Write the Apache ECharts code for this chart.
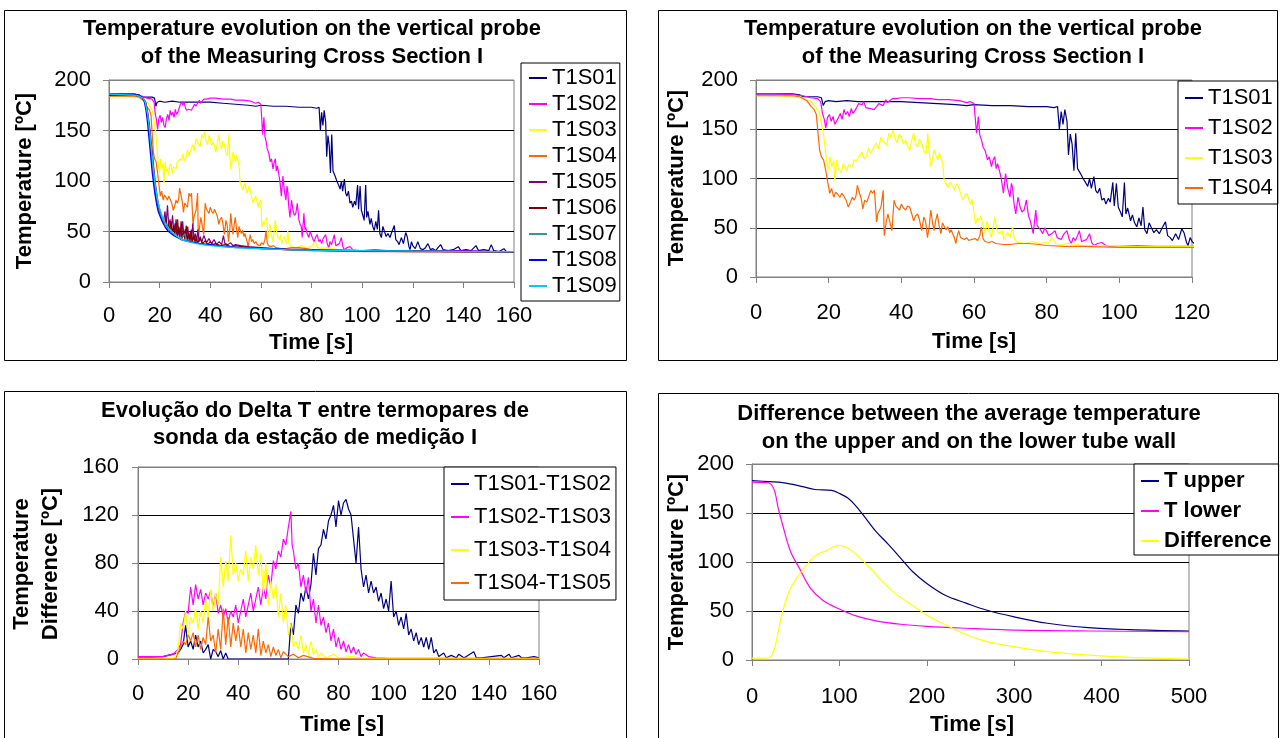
<!DOCTYPE html>
<html><head><meta charset="utf-8">
<script src="https://cdn.jsdelivr.net/npm/echarts@6/dist/echarts.min.js"></script>
<style>html,body{margin:0;padding:0;background:#fff}#c{width:1280px;height:738px}</style>
</head><body><div id="c"></div>
<script>
// ---------- Panel 1 & 2 : probe temperatures [time s, temperature ºC] ----------
const T1S01 = [[0,186],[5,186],[10,186],[12,185],[13,183],[15,183],[17,183],[18,182],[18.5,174],[19,178],[20,179],[22,178],[25,179],[28,178],[30,178],[35,178],[40,178],[45,177],[50,176],[55,175],[58,174],[60,175],[65,174],[70,174],[75,173],[80,173],[82,172],[83,173],[83.5,150],[84,168],[84.5,155],[85,170],[85.6,158],[86,124],[86.5,145],[87,135],[87.5,108],[88,146],[88.5,110],[89,107],[89.6,103],[90,100],[90.7,96],[91.3,92],[91.8,100],[92.3,90],[93,102],[93.5,88],[94,85],[94.6,90],[95.2,78],[95.8,80],[96.3,74],[97,80],[97.5,76],[98.2,96],[98.6,72],[99.2,95],[99.7,71],[100.3,66],[100.8,61],[101.4,96],[101.8,64],[102.3,70],[103.1,57],[103.6,63],[104.2,55],[104.8,51],[105.4,60],[106,52],[106.5,71],[107,48],[107.6,44],[108.2,55],[108.7,51],[109.5,45],[110.2,48],[111,44],[111.8,50],[112.7,56],[113.3,42],[114,40],[114.6,37],[115.5,44],[116.3,38],[117.2,49],[117.8,45],[118.5,35],[118.9,32],[119.5,40],[120,36],[121,33],[122,40],[123,33],[124,32],[125,34],[126,38],[127,32],[128,33],[129,31],[131,37],[132,32],[134,31],[136,32],[138,35],[139,31],[141,32],[143,31],[145,36],[146,31],[148,32],[150,31],[151,37],[152,31],[154,30],[156,33],[157,30],[160,30]];
const T1S02 = [[0,186],[5,186],[10,185],[13,184],[15,182],[17,181],[17.8,178],[18.3,166],[18.8,160],[19.2,151],[19.7,162],[20.2,165],[20.7,158],[21.2,163],[21.7,155],[22.2,153],[22.7,162],[23.2,166],[23.7,160],[24.2,170],[24.7,165],[25.2,168],[25.7,163],[26.2,171],[26.7,166],[27.2,168],[27.7,172],[28.2,176],[28.7,178],[29.2,175],[29.7,178],[30.2,172],[30.7,170],[31.5,171],[32.5,170],[33.2,173],[33.8,176],[34.3,174],[35,174],[35.7,180],[36.2,177],[36.8,179],[37.5,181],[38.5,181],[40,182],[42,182],[45,181],[48,181],[50,180],[53,180],[56,179],[58,177],[59,178],[60,176],[60.5,176],[60.7,146],[61.2,163],[61.6,144],[62,140],[62.5,132],[63.1,128],[63.7,119],[64.2,122],[64.8,112],[65.2,118],[65.7,122],[66.1,110],[66.5,115],[67,108],[67.5,100],[68.1,85],[68.7,105],[69.3,90],[69.9,81],[70.3,95],[70.6,91],[71,75],[71.5,64],[72.1,81],[72.7,71],[73.2,66],[73.8,68],[74.4,78],[75,62],[75.5,57],[76,55],[76.3,44],[77,68],[77.4,52],[77.7,54],[78.3,48],[78.9,44],[79.5,50],[80,51],[80.6,42],[81.1,40],[81.7,45],[82.3,47],[82.9,40],[83.4,42],[84,38],[84.6,43],[85.1,45],[85.6,47],[86.2,38],[86.8,34],[87.3,40],[87.9,37],[88.5,42],[89,47],[89.6,36],[90.1,35],[91,38],[91.8,44],[92.4,35],[93,32],[94,34],[95.2,35],[96.3,32],[97.5,31],[100,31],[105,32],[110,31],[115,31],[120,31],[130,31],[140,31],[150,30],[160,30]];
const T1S03 = [[0,184],[5,184],[10,183],[12,182],[14,180],[15.2,178],[16.3,173],[17,170],[17.5,166],[18,156],[18.4,148],[18.8,139],[19.3,122],[19.9,108],[20.4,122],[20.9,112],[21.4,118],[21.7,98],[22.2,119],[22.6,110],[23,112],[23.5,106],[24,115],[24.5,117],[25,108],[25.5,114],[25.9,115],[26.5,112],[27,119],[27.6,118],[28.2,122],[28.7,120],[29.2,127],[29.7,120],[30.3,122],[31,131],[31.5,125],[32,129],[32.6,133],[33.2,136],[33.7,130],[34.4,142],[35,138],[35.5,139],[36,134],[36.6,146],[37.2,142],[37.7,149],[38.3,140],[38.9,136],[39.4,145],[40,142],[40.6,135],[41.2,139],[41.7,133],[42.3,129],[42.8,138],[43.4,146],[43.9,135],[44.5,132],[45,140],[45.6,136],[46.2,128],[46.8,125],[47.3,146],[47.6,130],[48.1,112],[48.5,118],[49,129],[49.5,124],[50,119],[50.5,126],[51,127],[51.4,115],[51.8,98],[52.3,98],[52.9,91],[53.4,96],[53.7,98],[54.2,92],[54.6,88],[55.2,95],[55.8,91],[56.3,85],[56.9,78],[57.4,82],[58,85],[58.5,80],[59,74],[59.5,79],[60,81],[60.4,54],[61,60],[61.4,57],[61.9,62],[62.3,64],[62.7,50],[63.1,44],[63.6,57],[64.1,48],[64.8,40],[65.3,52],[65.7,61],[66.2,50],[66.8,44],[67.3,42],[67.8,47],[68.2,38],[68.7,37],[69.3,45],[69.9,40],[70.3,38],[70.6,51],[71.1,39],[71.5,37],[72,35],[72.7,35],[74,34],[76,36],[78,34],[80,35],[80.6,35],[81.5,40],[82.5,34],[84,33],[86,34],[88,33],[90,32],[95,32],[100,31],[110,31],[120,31],[140,30],[160,30]];
const T1S04 = [[0,184],[5,184],[10,184],[12,183],[13,181],[14,179],[15.2,173],[16,170],[16.6,165],[17,149],[17.5,129],[18,122],[18.6,119],[19.2,108],[19.7,97],[20.3,85],[20.8,90],[21.4,81],[21.9,86],[22.5,84],[23.1,81],[23.6,85],[24.2,82],[24.8,78],[25.4,71],[26,76],[26.5,81],[27,78],[27.5,82],[27.9,93],[28.5,85],[29,79],[29.4,69],[29.9,78],[30.5,76],[31,74],[31.6,88],[32.1,85],[32.6,88],[33.2,56],[33.5,64],[34,68],[34.4,71],[35,88],[35.3,42],[35.8,55],[36.3,64],[36.8,64],[37.4,47],[38,78],[38.5,72],[39,71],[39.5,68],[40,74],[40.6,70],[41.2,68],[41.7,72],[42.3,71],[42.8,65],[43.4,57],[43.9,62],[44.5,64],[45,58],[45.6,47],[46.2,61],[46.7,56],[47.2,40],[47.7,52],[48.1,68],[48.6,55],[49,47],[49.5,58],[49.9,64],[50.4,52],[50.9,44],[51.3,55],[51.8,54],[52.3,48],[52.8,51],[53.3,45],[53.7,48],[54.1,44],[54.6,40],[55,34],[55.4,42],[55.8,47],[56.3,40],[56.8,42],[57.4,38],[58,40],[58.6,37],[59.2,38],[59.7,36],[60.3,39],[61,37],[61.6,42],[62,51],[62.5,39],[63,36],[64,35],[65,36],[66,34],[68,33],[70,33],[72,34],[75,34],[78,33],[80,32],[85,31],[90,31],[100,30],[110,30],[120,30],[140,30],[160,30]];
const T1S05 = [[0,185],[10,185],[12,184],[13,183],[14,180],[14.8,172],[15.5,160],[16.2,142],[16.8,125],[17.4,110],[18,96],[18.6,84],[19.2,76],[19.8,70],[20.4,66],[21,62],[21.6,60],[22.1,70],[22.6,58],[23.1,76],[23.6,55],[24.1,62],[24.6,52],[25.1,66],[25.6,50],[26.1,58],[26.6,47],[27.1,62],[27.6,46],[28.1,54],[28.6,44],[29.1,60],[29.6,45],[30.1,52],[30.6,43],[31.1,55],[31.6,42],[32.1,50],[32.6,41],[33.1,58],[33.6,42],[34.1,48],[34.6,40],[35.1,52],[35.6,40],[36.1,45],[36.6,39],[37.5,46],[38.5,39],[39.5,43],[40.5,38],[41.5,42],[42.5,37],[43.5,40],[44.5,37],[45.2,46],[45.8,38],[47,37],[48,39],[49,36],[50,37],[52,36],[55,35],[60,34],[65,33],[70,32],[80,31.5],[90,31],[100,31],[120,30.5],[140,30],[160,30]];
const T1S06 = [[0,185],[10,185],[12,184],[13.5,182],[14.5,178],[15.3,168],[16,155],[16.6,140],[17.2,126],[17.8,110],[18.4,96],[19,85],[19.6,76],[20.2,70],[20.8,64],[21.4,60],[22,57],[22.5,64],[23,52],[23.5,58],[24,50],[24.5,60],[25,48],[25.5,56],[26,47],[26.5,62],[27,45],[27.5,55],[28,44],[28.5,60],[29,43],[29.5,50],[30,42],[30.5,56],[31,41],[31.5,48],[32,40],[32.5,52],[33,40],[33.5,46],[34,39],[34.5,45],[35,39],[36,43],[37,38],[38,41],[39,37],[40,40],[41,37],[42,38],[44,36],[46,37],[48,35],[50,36],[55,34],[60,33],[70,32],[80,31],[100,30.5],[120,30],[160,29.5]];
const T1S07 = [[0,186],[10,185],[12,184],[13.5,182],[14.3,178],[15,170],[15.6,158],[16.2,142],[16.8,126],[17.4,111],[18,98],[18.6,87],[19.2,78],[19.8,72],[20.5,66],[21.5,60],[22.5,55],[23.5,52],[24.5,50],[25.5,47],[27,45],[28.5,43],[30,48],[30.5,42],[32,40],[34,39],[36,38],[38,37],[40,36.5],[45,35],[50,34],[60,33],[70,32],[80,31.5],[100,31],[120,30.5],[140,30],[160,30]];
const T1S08 = [[0,186],[10,186],[12,185],[13,183],[14,178],[14.6,170],[15.2,158],[15.8,142],[16.4,126],[17,110],[17.6,97],[18.2,86],[18.8,77],[19.4,70],[20,66],[20.8,61],[21.6,57],[22.5,53],[23.5,50],[24.5,48],[25.5,46],[27,44],[28.5,42],[30,41],[32,40],[34,39],[36,38],[38,37.5],[40,37],[45,35.5],[50,34.5],[60,33.5],[70,32.5],[80,32],[100,31],[120,30.5],[140,30.5],[160,30]];
const T1S09 = [[0,186],[10,185],[12,184],[13.5,182],[14.3,178],[15.2,167],[16,151],[16.8,131],[17.6,111],[18.4,94],[19.2,81],[20,73],[20.8,67],[21.6,61],[22.4,58],[23.2,55],[24,52],[24.8,50],[25.6,48],[26.5,46],[28,43],[29.7,41],[32,39.5],[34.5,38],[37,37],[40,36],[45,35],[50,34],[60,33],[70,32],[80,31.5],[100,31],[120,30.5],[140,30.2],[160,30]];

// ---------- Panel 3 : temperature differences ----------
const D0102 = [[0,1.5],[5,1.5],[10,2],[12,3],[14,4],[16,5],[17,8],[18,12],[19,28],[20,10],[21,15],[22,8],[23,20],[24,10],[25,15],[26,5],[27,8],[28,12],[29,0],[30,8],[31,6],[32,2],[33,7],[34,0],[35,5],[36,0],[37,0],[60,0],[61,30],[62,20],[63,45],[64,38],[65,55],[66,48],[67,60],[68,50],[69,62],[70,88],[71,70],[72,92],[73,95],[74,108],[75,100],[76,115],[77,120],[78,128],[79,110],[80,132],[81,120],[82,130],[83,133],[84,125],[85,120],[86,100],[87,80],[88,110],[89,75],[90,60],[91,70],[92,55],[93,65],[94,55],[95,60],[96,48],[97,55],[98,42],[99,50],[100,40],[101,65],[102,35],[103,40],[104,28],[105,35],[106,25],[107,38],[108,20],[109,25],[110,15],[111,22],[112,12],[113,18],[114,10],[115,18],[116,8],[117,18],[118,5],[119,8],[120,2],[122,5],[123,1],[125,3],[127,1],[128,4],[130,1],[131,2],[134,6],[135,1],[137,1],[145,3],[146,1],[148,4],[149,1],[152,3],[153,1],[155,1],[158,2],[160,1]];
const D0203 = [[0,2],[5,2],[10,2],[14,4],[16,8],[17,12],[18,30],[19,40],[20,38],[21,60],[22,45],[23,62],[24,50],[25,58],[26,45],[27,55],[28,50],[29,57],[30,42],[31,55],[32,38],[33,45],[34,35],[35,42],[36,30],[37,40],[38,35],[39,45],[40,30],[41,40],[42,50],[43,35],[44,45],[45,55],[46,40],[47,50],[48,60],[49,45],[50,60],[51,50],[52,70],[53,60],[54,82],[55,75],[56,90],[57,85],[58,100],[59,95],[60,110],[61,123],[61.5,95],[62,90],[63,75],[64,80],[65,60],[66,70],[67,55],[68,68],[69,40],[70,50],[71,30],[72,45],[73,28],[74,35],[75,22],[76,30],[77,15],[78,25],[79,10],[80,18],[81,8],[82,15],[83,6],[84,12],[85,5],[86,10],[87,4],[88,8],[89,2],[90,5],[92,2],[95,1],[100,0.5],[160,0.5]];
const D0304 = [[0,0.5],[14,0.5],[15,3],[16,8],[17,30],[18,25],[19,40],[20,20],[21,35],[22,30],[23,42],[24,25],[25,40],[26,30],[27,50],[28,35],[29,58],[30,40],[31,55],[32,45],[33,85],[34,60],[35,82],[36,65],[37,103],[38,70],[39,80],[40,65],[41,75],[42,70],[43,90],[44,65],[45,85],[46,75],[47,95],[48,70],[49,88],[50,55],[51,80],[52,45],[53,65],[54,50],[55,62],[56,35],[57,55],[58,30],[59,45],[60,20],[61,30],[62,10],[63,15],[64,8],[65,20],[66,5],[67,12],[68,3],[69,15],[70,4],[71,8],[72,2],[73,5],[75,1],[78,4],[80,1],[85,2],[90,0.5],[160,0.5]];
const D0405 = [[0,0],[15,0],[16,5],[17,10],[18,15],[19,12],[20,20],[21,15],[22,22],[23,10],[24,20],[25,8],[26,18],[27,12],[28,35],[29,15],[30,20],[31,5],[32,25],[33,8],[34,42],[35,12],[36,35],[37,10],[38,30],[39,15],[40,28],[41,10],[42,25],[43,5],[44,22],[45,8],[46,20],[47,5],[48,25],[49,3],[50,15],[51,5],[52,12],[53,2],[54,10],[55,3],[56,8],[57,1],[58,6],[60,2],[62,4],[64,1],[66,3],[70,0.5],[80,0],[160,0]];

// ---------- Panel 4 : tube wall averages ----------
const T_UPPER = [[0,183],[20,182],[35,181],[58,177],[72,174],[91,173],[100,170],[110,165],[119,157],[128,147],[142,131],[156,118],[170,104],[184,90],[200,78],[221,66],[245,58],[268,51],[300,44],[338,37.5],[385,33],[432,31],[500,29.5]];
const T_LOWER = [[0,181.5],[15,181],[21,180],[26,172],[30,155],[35,138],[44,111],[54,94],[67,73],[81,61],[100,52],[119,45],[142,40],[170,36.5],[200,34.4],[245,32.4],[292,30.7],[385,29.6],[500,29]];
const T_DIFF = [[0,2],[15,2],[21,3],[26,12],[30,29],[35,49],[44,73],[58,92],[72,106],[86,112],[100,117],[110,114],[124,104],[142,87],[161,70],[180,58],[200,46],[221,36],[245,26],[268,19],[300,13.6],[338,8.5],[385,5],[432,2.7],[500,1]];

// ---------- texts ----------
const TITLES = [
  ['Temperature evolution on the vertical probe', 'of the Measuring Cross Section I'],
  ['Temperature evolution on the vertical probe', 'of the Measuring Cross Section I'],
  ['Evolução do Delta T entre termopares de', 'sonda da estação de medição I'],
  ['Difference between the average temperature', 'on the upper and on the lower tube wall']
];
const X_TITLE = 'Time [s]';
const Y_TITLE = 'Temperature [ºC]';
const Y_TITLE_3 = ['Temperature', 'Difference [ºC]'];

const NAMES1 = ['T1S01','T1S02','T1S03','T1S04','T1S05','T1S06','T1S07','T1S08','T1S09'];
const NAMES2 = ['T1S01','T1S02','T1S03','T1S04'];
const NAMES3 = ['T1S01-T1S02','T1S02-T1S03','T1S03-T1S04','T1S04-T1S05'];
const NAMES4 = ['T upper','T lower','Difference'];
const COLORS1 = ['#000080','#FF00FF','#FFFF00','#FF6600','#800080','#800000','#2E9A9A','#0000FF','#00CCFF'];
const COLORS3 = ['#000080','#FF00FF','#FFFF00','#FF6600'];
const COLORS4 = ['#000080','#FF00FF','#FFFF00'];

const DATA1 = [T1S01,T1S02,T1S03,T1S04,T1S05,T1S06,T1S07,T1S08,T1S09];
const DATA3 = [D0102,D0203,D0304,D0405];
const DATA4 = [T_UPPER,T_LOWER,T_DIFF];

const FONT = '"Liberation Sans", Arial, Helvetica, sans-serif';

const chart = echarts.init(document.getElementById('c'), null, {renderer:'canvas'});

const grids = [
  {left:109, top:80, width:405, height:202},
  {left:756, top:80, width:436, height:197},
  {left:138, top:467, width:401, height:192},
  {left:752, top:464, width:437, height:196}
];
const xCfg = [[0,160,20],[0,120,20],[0,160,20],[0,500,100]];
const yCfg = [[0,200,50],[0,200,50],[0,160,40],[0,200,50]];
const yLabelMargin = [18,18,19,18];
const xLabelMargin = [23,25,24,26];

function xAxis(i){
  return {type:'value', gridIndex:i, min:xCfg[i][0], max:xCfg[i][1], interval:xCfg[i][2],
    axisLine:{show:true, onZero:false, lineStyle:{color:'#808080', width:1}},
    axisTick:{show:true, inside:false, length:6, lineStyle:{color:'#808080'}},
    axisLabel:{fontSize:22, fontFamily:FONT, color:'#000', margin:xLabelMargin[i]},
    splitLine:{show:false}};
}
function yAxis(i){
  const n = Math.round((yCfg[i][1]-yCfg[i][0])/yCfg[i][2]) + 1;
  const cols = [];
  for (let k=0;k<n;k++) cols.push((k===0||k===n-1)?'#808080':'#000');
  return {type:'value', gridIndex:i, min:yCfg[i][0], max:yCfg[i][1], interval:yCfg[i][2],
    axisLine:{show:true, lineStyle:{color:'#808080', width:1}},
    axisTick:{show:true, inside:false, length:6, lineStyle:{color:'#808080'}},
    axisLabel:{fontSize:22, fontFamily:FONT, color:'#000', margin:yLabelMargin[i]},
    splitLine:{show:true, lineStyle:{color:cols, width:1}}};
}

const series = [];
function addSeries(names, data, colors, gi){
  names.forEach((n,k)=>{
    series.push({type:'line', name:n, xAxisIndex:gi, yAxisIndex:gi, data:data[k],
      showSymbol:false, symbol:'none', clip:true, smooth: gi===3 ? 0.35 : false,
      lineStyle:{color:colors[k], width:1.2}, itemStyle:{color:colors[k]}, z:2+k});
  });
}
addSeries(NAMES1, DATA1, COLORS1, 0);
addSeries(NAMES2, DATA1.slice(0,4), COLORS1, 1);
addSeries(NAMES3, DATA3, COLORS3, 2);
addSeries(NAMES4, DATA4, COLORS4, 3);

function legend(names, left, top, padding, gap, bold){
  return {data:names, orient:'vertical', left:left, top:top, padding:padding, itemGap:gap,
    itemWidth:18, itemHeight:2, icon:'rect', selectedMode:false,
    borderColor:'#000', borderWidth:1, backgroundColor:'#fff', z:10,
    textStyle:{fontSize:22, fontFamily:FONT, color:'#000', fontWeight: bold?'bold':'normal'}};
}

const graphic = [];
function rect(x,y,w,h){ graphic.push({type:'rect', shape:{x:x+0.5,y:y+0.5,width:w,height:h}, style:{fill:'none', stroke:'#000', lineWidth:1}, z:100}); }
function txt(s,x,y,rot){
  graphic.push({type:'text', x:x, y:y, rotation:rot||0, z:100,
    style:{text:s, font:'bold 22px '+FONT, fill:'#000', textAlign:'center', textVerticalAlign:'middle', align:'center', verticalAlign:'middle'}});
}
rect(4,10,622,350); rect(658,10,619,350); rect(4,391,622,360); rect(658,393,620,360);
txt(TITLES[0][0],312,29); txt(TITLES[0][1],312,57);
txt(TITLES[1][0],973,29); txt(TITLES[1][1],973,57);
txt(TITLES[2][0],315,411); txt(TITLES[2][1],315,438);
txt(TITLES[3][0],969,414); txt(TITLES[3][1],969,442);
txt(Y_TITLE,25,181,Math.PI/2); txt(Y_TITLE,677,178,Math.PI/2);
txt(Y_TITLE_3[0],22,564,Math.PI/2); txt(Y_TITLE_3[1],51,564,Math.PI/2);
txt(Y_TITLE,677,562,Math.PI/2);
txt(X_TITLE,311,343); txt(X_TITLE,974,342); txt(X_TITLE,342,725); txt(X_TITLE,972,725);

chart.setOption({
  animation:false,
  backgroundColor:'#fff',
  textStyle:{fontFamily:FONT},
  grid: grids.map(g=>Object.assign({show:true, borderColor:'#808080', borderWidth:1, backgroundColor:'transparent', containLabel:false}, g)),
  xAxis:[0,1,2,3].map(xAxis),
  yAxis:[0,1,2,3].map(yAxis),
  legend:[
    legend(NAMES1, 521, 63, [4,3,4,8], 4, false),
    legend(NAMES2, 1178, 81, [6,5,5,7], 8, false),
    legend(NAMES3, 444, 467, [6,5,6,7], 11, false),
    legend(NAMES4, 1134, 464, [6,7,3,7], 8, true)
  ],
  series:series,
  graphic:graphic
});
</script></body></html>
